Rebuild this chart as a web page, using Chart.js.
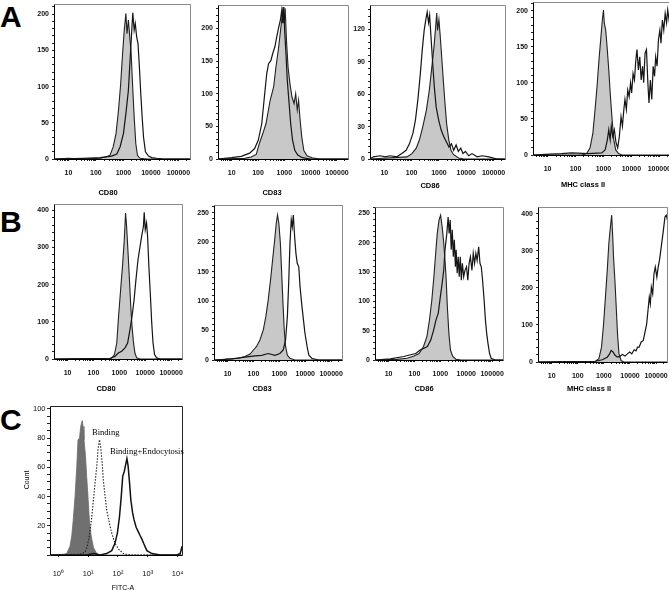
<!DOCTYPE html>
<html>
<head>
<meta charset="utf-8">
<script src="https://cdn.jsdelivr.net/npm/chart.js@4.4.1/dist/chart.umd.min.js"></script>
<style>
html, body { margin:0; padding:0; background:#ffffff; }
body { width:669px; height:591px; overflow:hidden; position:relative; }
canvas { position:absolute; }
.panel-letter { position:absolute; left:0; font-family:"Liberation Sans", Arial, sans-serif; font-weight:bold; font-size:30px; line-height:30px; color:#000; }
</style>
</head>
<body>
<div class="panel-letter" style="top:2px">A</div>
<div class="panel-letter" style="top:207px">B</div>
<div class="panel-letter" style="top:405px">C</div>
<script>
// ---------------- Tick labels ----------------
const FACS_X_TICKS = [10, 100, 1000, 10000, 100000];
const FACS_X_LABELS = ['10', '100', '1000', '10000', '100000'];
const C_X_TICKS = [1, 10, 100, 1000, 10000];
const C_X_LABELS = ['10\u2070', '10\u00B9', '10\u00B2', '10\u00B3', '10\u2074'];
const A1_Y_TICKS = [0, 50, 100, 150, 200];
const A2_Y_TICKS = [0, 50, 100, 150, 200];
const A3_Y_TICKS = [0, 30, 60, 90, 120];
const A4_Y_TICKS = [0, 50, 100, 150, 200];
const B1_Y_TICKS = [0, 100, 200, 300, 400];
const B2_Y_TICKS = [0, 50, 100, 150, 200, 250];
const B3_Y_TICKS = [0, 50, 100, 150, 200, 250];
const B4_Y_TICKS = [0, 100, 200, 300, 400];
const C_Y_TICKS = [20, 40, 60, 80, 100];

// ---------------- Histogram data (log10 fluorescence, count) ----------------
// Row A
const A1_FILLED_LOG   = [0.48, 1.0, 1.5, 2.15, 2.39, 2.51, 2.63, 2.73, 2.82, 2.90, 2.97, 3.03, 3.09, 3.13, 3.18, 3.23, 3.28, 3.33, 3.39, 3.45, 3.51, 3.60, 3.85, 5.42];
const A1_FILLED_COUNT = [0, 1, 0, 1, 3, 5, 17, 35, 67, 104, 146, 178, 201, 173, 192, 169, 146, 104, 58, 21, 5, 1, 0, 0];
const A1_OPEN_LOG     = [0.48, 1.54, 2.15, 2.57, 2.76, 2.88, 3.00, 3.09, 3.18, 3.24, 3.29, 3.34, 3.39, 3.43, 3.48, 3.53, 3.58, 3.63, 3.68, 3.73, 3.80, 3.91, 4.03, 4.21, 4.45, 5.42];
const A1_OPEN_COUNT   = [0, 1, 2, 4, 7, 17, 35, 63, 95, 136, 169, 202, 178, 187, 169, 159, 127, 90, 58, 30, 10, 4, 2, 1, 0, 0];

const A2_FILLED_LOG   = [0.48, 1.49, 1.74, 1.93, 2.05, 2.18, 2.30, 2.46, 2.59, 2.68, 2.77, 2.84, 2.90, 2.95, 2.99, 3.03, 3.08, 3.14, 3.21, 3.29, 3.37, 3.43, 3.49, 3.54, 3.60, 3.66, 3.74, 3.86, 4.05, 4.36, 5.42];
const A2_FILLED_COUNT = [0, 1, 3, 7, 24, 39, 54, 90, 110, 141, 167, 192, 213, 233, 208, 231, 182, 141, 116, 95, 85, 100, 75, 90, 59, 34, 13, 5, 2, 0, 0];
const A2_OPEN_LOG     = [0.48, 0.99, 1.36, 1.68, 1.87, 2.01, 2.14, 2.24, 2.33, 2.40, 2.49, 2.56, 2.64, 2.71, 2.79, 2.85, 2.90, 2.94, 2.98, 3.01, 3.06, 3.11, 3.18, 3.24, 3.31, 3.40, 3.51, 3.68, 3.99, 5.42];
const A2_OPEN_COUNT   = [0, 2, 4, 9, 16, 29, 54, 95, 131, 146, 151, 162, 172, 187, 203, 213, 228, 208, 233, 197, 162, 121, 85, 54, 29, 13, 6, 2, 0, 0];

const A3_FILLED_LOG   = [0.48, 1.83, 2.01, 2.17, 2.29, 2.41, 2.54, 2.65, 2.74, 2.82, 2.88, 2.92, 2.95, 3.00, 3.05, 3.10, 3.16, 3.22, 3.28, 3.36, 3.44, 3.54, 3.72, 3.91, 5.42];
const A3_FILLED_COUNT = [0, 2, 5, 10, 18, 30, 45, 64, 85, 104, 122, 135, 119, 129, 113, 95, 73, 52, 33, 18, 8, 4, 1, 0, 0];
const A3_OPEN_LOG     = [0.48, 0.60, 0.85, 1.03, 1.21, 1.46, 1.64, 1.80, 1.92, 2.05, 2.14, 2.23, 2.32, 2.39, 2.46, 2.52, 2.57, 2.62, 2.66, 2.71, 2.77, 2.83, 2.90, 2.99, 3.08, 3.17, 3.27, 3.37, 3.46, 3.54, 3.63, 3.71, 3.80, 3.88, 3.97, 4.09, 4.21, 4.40, 4.58, 4.83, 5.13, 5.42];
const A3_OPEN_COUNT   = [0, 2, 3, 2, 3, 2, 5, 8, 14, 24, 36, 55, 79, 101, 119, 129, 136, 126, 133, 113, 89, 67, 48, 36, 27, 21, 16, 11, 14, 8, 13, 7, 10, 5, 7, 3, 5, 2, 3, 2, 0, 0];

const A4_FILLED_LOG   = [0.48, 2.22, 2.40, 2.52, 2.62, 2.70, 2.77, 2.84, 2.91, 2.96, 3.00, 3.03, 3.08, 3.13, 3.19, 3.25, 3.31, 3.37, 3.44, 3.54, 3.66, 5.42];
const A4_FILLED_COUNT = [0, 0, 2, 10, 30, 63, 95, 132, 164, 187, 201, 183, 173, 150, 118, 81, 49, 21, 7, 2, 0, 0];
const A4_OPEN_LOG     = [0.48, 0.91, 1.50, 1.86, 2.46, 2.94, 3.06, 3.14, 3.19, 3.24, 3.28, 3.33, 3.39, 3.45, 3.51, 3.57, 3.63, 3.68, 3.73, 3.77, 3.82, 3.87, 3.92, 3.97, 4.01, 4.06, 4.11, 4.16, 4.20, 4.25, 4.30, 4.35, 4.40, 4.44, 4.49, 4.54, 4.59, 4.63, 4.68, 4.73, 4.78, 4.83, 4.87, 4.92, 4.97, 5.02, 5.06, 5.11, 5.16, 5.21, 5.26, 5.30, 5.35, 5.40];
const A4_OPEN_COUNT   = [0, 1, 2, 3, 2, 3, 7, 21, 35, 21, 40, 26, 35, 17, 10, 26, 53, 40, 63, 77, 63, 90, 81, 100, 86, 113, 104, 132, 146, 118, 136, 104, 123, 100, 141, 146, 100, 72, 104, 77, 123, 109, 136, 123, 160, 173, 155, 187, 173, 196, 183, 201, 187, 206];

// Row B
const B1_FILLED_LOG   = [0.48, 2.70, 2.81, 2.90, 2.97, 3.05, 3.13, 3.19, 3.24, 3.28, 3.33, 3.39, 3.44, 3.49, 3.54, 3.60, 3.67, 3.80, 5.42];
const B1_FILLED_COUNT = [0, 2, 12, 43, 115, 187, 258, 321, 393, 357, 294, 213, 142, 88, 48, 16, 3, 0, 0];
const B1_OPEN_LOG     = [0.48, 2.64, 2.83, 2.96, 3.09, 3.22, 3.32, 3.41, 3.49, 3.57, 3.64, 3.72, 3.80, 3.86, 3.93, 3.96, 4.00, 4.05, 4.09, 4.14, 4.20, 4.25, 4.30, 4.36, 4.44, 4.57, 5.42];
const B1_OPEN_COUNT   = [0, 2, 7, 16, 21, 30, 43, 79, 115, 160, 213, 267, 303, 330, 357, 395, 348, 366, 330, 249, 169, 97, 43, 12, 3, 0, 0];

const B2_FILLED_LOG   = [0.48, 0.90, 1.42, 1.67, 1.87, 2.00, 2.12, 2.25, 2.38, 2.48, 2.57, 2.66, 2.74, 2.82, 2.88, 2.93, 2.98, 3.04, 3.09, 3.14, 3.19, 3.24, 3.31, 3.41, 3.60, 5.42];
const B2_FILLED_COUNT = [0, 1, 3, 6, 10, 17, 23, 34, 51, 74, 102, 136, 170, 204, 232, 246, 232, 198, 147, 96, 51, 23, 8, 3, 0, 0];
const B2_OPEN_LOG     = [0.48, 1.16, 1.67, 2.06, 2.32, 2.57, 2.83, 3.02, 3.15, 3.24, 3.31, 3.36, 3.41, 3.46, 3.50, 3.54, 3.59, 3.64, 3.69, 3.75, 3.80, 3.86, 3.93, 3.99, 4.07, 4.14, 4.25, 4.51, 5.42];
const B2_OPEN_COUNT   = [0, 2, 5, 7, 8, 11, 8, 11, 17, 34, 74, 130, 198, 238, 226, 246, 209, 181, 164, 158, 124, 96, 68, 45, 23, 8, 3, 0, 0];

const B3_FILLED_LOG   = [0.48, 1.33, 1.72, 1.98, 2.18, 2.35, 2.48, 2.58, 2.67, 2.75, 2.82, 2.88, 2.95, 3.01, 3.07, 3.12, 3.17, 3.22, 3.27, 3.33, 3.39, 3.48, 3.61, 3.81, 5.42];
const B3_FILLED_COUNT = [0, 1, 3, 7, 11, 23, 40, 68, 102, 142, 182, 216, 239, 247, 227, 205, 176, 142, 91, 45, 17, 6, 1, 0, 0];
const B3_OPEN_LOG     = [0.48, 1.07, 1.59, 1.85, 2.05, 2.22, 2.37, 2.50, 2.63, 2.74, 2.83, 2.92, 3.00, 3.07, 3.13, 3.18, 3.25, 3.30, 3.34, 3.38, 3.42, 3.46, 3.50, 3.54, 3.58, 3.61, 3.65, 3.69, 3.73, 3.77, 3.81, 3.85, 3.90, 3.95, 4.01, 4.06, 4.11, 4.16, 4.22, 4.27, 4.32, 4.37, 4.42, 4.48, 4.53, 4.58, 4.63, 4.69, 4.74, 4.79, 4.84, 4.90, 4.96, 5.12, 5.42];
const B3_OPEN_COUNT   = [0, 2, 6, 9, 11, 17, 20, 23, 34, 51, 68, 80, 108, 131, 153, 188, 216, 244, 216, 239, 188, 222, 176, 205, 159, 188, 148, 176, 142, 176, 136, 165, 142, 153, 159, 136, 165, 176, 153, 182, 165, 182, 170, 193, 165, 159, 136, 102, 68, 45, 28, 11, 3, 0, 0];

const B4_FILLED_LOG   = [0.48, 2.68, 2.81, 2.91, 2.99, 3.06, 3.13, 3.19, 3.25, 3.30, 3.34, 3.37, 3.43, 3.48, 3.53, 3.58, 3.66, 3.77, 5.42];
const B4_FILLED_COUNT = [0, 2, 9, 40, 103, 175, 247, 319, 364, 396, 337, 283, 211, 139, 67, 22, 4, 0, 0];
const B4_OPEN_LOG     = [0.48, 2.68, 2.94, 3.13, 3.22, 3.28, 3.35, 3.43, 3.52, 3.61, 3.71, 3.81, 3.90, 3.99, 4.07, 4.16, 4.23, 4.29, 4.35, 4.43, 4.51, 4.59, 4.64, 4.69, 4.74, 4.78, 4.82, 4.87, 4.92, 4.97, 5.03, 5.08, 5.13, 5.18, 5.23, 5.28, 5.34, 5.39, 5.44];
const B4_OPEN_COUNT   = [0, 2, 6, 13, 22, 31, 27, 18, 13, 15, 20, 16, 22, 27, 22, 33, 30, 40, 40, 54, 58, 85, 103, 139, 175, 157, 202, 184, 238, 256, 229, 256, 274, 301, 328, 355, 391, 396, 382];

// Row C (FITC-A)
const C_CONTROL_LOG   = [-0.28, 0.17, 0.28, 0.39, 0.45, 0.50, 0.56, 0.62, 0.66, 0.71, 0.75, 0.80, 0.83, 0.86, 0.91, 0.95, 1.00, 1.04, 1.10, 1.18, 1.29, 1.40, 4.15];
const C_CONTROL_COUNT = [0, 0.5, 1, 6, 13, 24, 40, 61, 79, 80, 88, 92, 88, 79, 68, 54, 38, 24, 13, 5, 1, 0, 0];
const C_BINDING_LOG   = [-0.28, 0.28, 0.73, 0.90, 0.97, 1.04, 1.11, 1.18, 1.23, 1.29, 1.33, 1.38, 1.42, 1.47, 1.51, 1.57, 1.62, 1.71, 1.79, 1.90, 2.02, 2.18, 2.41, 4.15];
const C_BINDING_COUNT = [0, 0, 0.5, 2, 6, 13, 24, 38, 49, 61, 72, 79, 74, 63, 51, 40, 31, 22, 15, 8, 4, 1, 0, 0];
const C_ENDO_LOG      = [-0.28, 0.95, 1.18, 1.40, 1.62, 1.79, 1.90, 1.98, 2.05, 2.11, 2.16, 2.21, 2.25, 2.30, 2.34, 2.39, 2.43, 2.49, 2.54, 2.61, 2.68, 2.75, 2.80, 2.86, 2.97, 3.14, 3.42, 3.98, 4.09, 4.15];
const C_ENDO_COUNT    = [0, 0, 1, 0, 1, 3, 8, 15, 26, 40, 54, 57, 61, 66, 61, 49, 38, 29, 24, 19, 16, 13, 11, 8, 3, 1, 0, 0, 1, 6];

// ---------------- Rendering ----------------
const FONT = '"Liberation Sans", Arial, sans-serif';
const SERIF = '"Liberation Serif", "Times New Roman", serif';

function toPoints(logs, counts) {
  return logs.map((l, i) => ({ x: Math.pow(10, l), y: counts[i] }));
}

const framePlugin = {
  id: 'frame',
  afterDatasetsDraw(chart, args, o) {
    const { ctx, chartArea: a } = chart;
    ctx.save();
    ctx.lineWidth = 1;
    ctx.strokeStyle = o.boxColor;
    ctx.beginPath();
    ctx.moveTo(a.left + 0.5, a.top + 0.5);
    ctx.lineTo(a.right + 0.5, a.top + 0.5);
    ctx.lineTo(a.right + 0.5, a.bottom + 0.5);
    ctx.stroke();
    ctx.strokeStyle = o.axisColor;
    ctx.beginPath();
    ctx.moveTo(a.left + 0.5, a.top + 0.5);
    ctx.lineTo(a.left + 0.5, a.bottom + 0.5);
    ctx.lineTo(a.right + 0.5, a.bottom + 0.5);
    ctx.stroke();
    ctx.restore();
  }
};

const textPlugin = {
  id: 'texts',
  afterDraw(chart, args, o) {
    const ctx = chart.ctx;
    for (const t of (o.items || [])) {
      ctx.save();
      ctx.font = t.font;
      ctx.fillStyle = t.color || '#000';
      ctx.textAlign = t.align || 'center';
      ctx.textBaseline = 'middle';
      ctx.translate(t.x, t.y);
      if (t.rotate) ctx.rotate(t.rotate);
      ctx.fillText(t.text, 0, 0);
      ctx.restore();
    }
  }
};

function facsMinorTicks(min, max, majors) {
  const out = [];
  for (let e = 0; e <= 6; e++) {
    for (let k = 2; k <= 9; k++) {
      const v = k * Math.pow(10, e);
      if (v > min && v < max && !majors.includes(v)) out.push(v);
    }
  }
  return out;
}

function makeChart(p) {
  const m = p.margins;
  const [x0, y0, x1, y1] = p.box;
  const cl = x0 - m.l, ct = y0 - m.t;
  const w = (x1 - x0) + m.l + m.r, h = (y1 - y0) + m.t + m.b;
  const cv = document.createElement('canvas');
  cv.width = w; cv.height = h;
  cv.style.left = cl + 'px'; cv.style.top = ct + 'px';
  cv.style.width = w + 'px'; cv.style.height = h + 'px';
  document.body.appendChild(cv);

  const xLabelMap = new Map(p.xTicks.map((v, i) => [v, p.xLabels[i]]));
  const xTickList = p.xTicks.concat(p.xMinor).sort((a, b) => a - b);
  const ySet = new Set(p.yTicks);
  const yTickList = [];
  for (let v = 0; v <= p.yMax; v += p.yMinor) yTickList.push(v);

  const items = p.texts.map(t => Object.assign({}, t, { x: t.x - cl, y: t.y - ct }));

  new Chart(cv, {
    type: 'line',
    data: { datasets: p.datasets },
    options: {
      responsive: false,
      animation: false,
      devicePixelRatio: 1,
      events: [],
      layout: { padding: { left: 0, top: m.t, right: m.r, bottom: 0 } },
      elements: { point: { radius: 0 }, line: { tension: 0 } },
      plugins: {
        legend: { display: false },
        tooltip: { enabled: false },
        frame: { boxColor: p.boxColor, axisColor: '#000' },
        texts: { items }
      },
      scales: {
        x: {
          type: 'logarithmic', min: p.xMin, max: p.xMax,
          border: { display: false },
          grid: { display: true, drawOnChartArea: false, drawTicks: true, tickLength: p.xTickLen, color: '#222', lineWidth: 1 },
          ticks: {
            autoSkip: false, maxRotation: 0, minRotation: 0, padding: p.xPad, color: '#111',
            font: { family: FONT, size: p.tickSize, weight: p.tickWeight },
            callback: v => (xLabelMap.has(v) ? xLabelMap.get(v) : '')
          },
          afterBuildTicks: s => { s.ticks = xTickList.map(v => ({ value: v })); },
          afterFit: s => { s.height = m.b; s.paddingLeft = 0; s.paddingRight = 0; }
        },
        y: {
          type: 'linear', min: 0, max: p.yMax,
          border: { display: false },
          grid: { display: true, drawOnChartArea: false, drawTicks: true, tickLength: p.yTickLen, color: '#222', lineWidth: 1 },
          ticks: {
            autoSkip: false, padding: p.yPad, color: '#111',
            font: { family: FONT, size: p.tickSize, weight: p.tickWeight },
            callback: v => (ySet.has(v) ? String(v) : '')
          },
          afterBuildTicks: s => { s.ticks = yTickList.map(v => ({ value: v })); },
          afterFit: s => { s.width = m.l; s.paddingTop = 0; s.paddingBottom = 0; }
        }
      }
    },
    plugins: [framePlugin, textPlugin]
  });
}

const FACS_MIN = 3, FACS_MAX = 262144;
const FACS_MINOR = facsMinorTicks(FACS_MIN, FACS_MAX, FACS_X_TICKS);

function facsPanel(box, yMax, yTicks, yMinor, title, tx, ty, open, filled) {
  return {
    box, yMax, yTicks, yMinor,
    margins: { l: 34, t: 3, r: 4, b: 45 },
    xMin: FACS_MIN, xMax: FACS_MAX,
    xTicks: FACS_X_TICKS, xLabels: FACS_X_LABELS, xMinor: FACS_MINOR,
    xTickLen: 2, yTickLen: 2, xPad: 8, yPad: 3, tickSize: 7, tickWeight: 'bold',
    boxColor: '#8a8a8a',
    texts: [{ text: title, x: tx, y: ty, font: 'bold 7.5px ' + FONT }],
    datasets: [
      { data: toPoints(open[0], open[1]), borderColor: '#151515', borderWidth: 1.2, pointRadius: 0, fill: false },
      { data: toPoints(filled[0], filled[1]), borderColor: '#222222', borderWidth: 1.1, backgroundColor: '#c8c8c8', pointRadius: 0, fill: 'origin' }
    ]
  };
}

const panels = [
  facsPanel([54, 4, 190, 159], 214, A1_Y_TICKS, 10, 'CD80', 108, 193, [A1_OPEN_LOG, A1_OPEN_COUNT], [A1_FILLED_LOG, A1_FILLED_COUNT]),
  facsPanel([218, 5, 348, 159], 236, A2_Y_TICKS, 10, 'CD83', 272, 193, [A2_OPEN_LOG, A2_OPEN_COUNT], [A2_FILLED_LOG, A2_FILLED_COUNT]),
  facsPanel([370, 5, 505, 159], 142.5, A3_Y_TICKS, 6, 'CD86', 430, 186, [A3_OPEN_LOG, A3_OPEN_COUNT], [A3_FILLED_LOG, A3_FILLED_COUNT]),
  facsPanel([533, 2, 671, 155], 212, A4_Y_TICKS, 10, 'MHC class II', 583, 185, [A4_OPEN_LOG, A4_OPEN_COUNT], [A4_FILLED_LOG, A4_FILLED_COUNT]),
  facsPanel([54, 204, 182, 359], 417, B1_Y_TICKS, 20, 'CD80', 106, 389, [B1_OPEN_LOG, B1_OPEN_COUNT], [B1_FILLED_LOG, B1_FILLED_COUNT]),
  facsPanel([214, 205, 342, 360], 263, B2_Y_TICKS, 10, 'CD83', 262, 389, [B2_OPEN_LOG, B2_OPEN_COUNT], [B2_FILLED_LOG, B2_FILLED_COUNT]),
  facsPanel([375, 207, 503, 360], 261, B3_Y_TICKS, 10, 'CD86', 424, 389, [B3_OPEN_LOG, B3_OPEN_COUNT], [B3_FILLED_LOG, B3_FILLED_COUNT]),
  facsPanel([538, 207, 667, 362], 418, B4_Y_TICKS, 20, 'MHC class II', 589, 389, [B4_OPEN_LOG, B4_OPEN_COUNT], [B4_FILLED_LOG, B4_FILLED_COUNT])
];

panels.push({
  box: [50, 406, 182, 555], yMax: 102, yTicks: C_Y_TICKS, yMinor: 5,
  margins: { l: 50, t: 3, r: 8, b: 36 },
  xMin: 0.525, xMax: 14060,
  xTicks: C_X_TICKS, xLabels: C_X_LABELS, xMinor: [],
  xTickLen: 2, yTickLen: 3, xPad: 12, yPad: 1.5, tickSize: 7.5, tickWeight: 'normal',
  boxColor: '#222',
  texts: [
    { text: 'Count', x: 27, y: 480, font: '7px ' + FONT, rotate: -Math.PI / 2 },
    { text: 'FITC-A', x: 123, y: 588, font: '7px ' + FONT },
    { text: 'Binding', x: 92, y: 433, font: '8.5px ' + SERIF, align: 'left' },
    { text: 'Binding+Endocytosis', x: 110, y: 452, font: '8.5px ' + SERIF, align: 'left' }
  ],
  datasets: [
    { data: toPoints(C_ENDO_LOG, C_ENDO_COUNT), borderColor: '#111', borderWidth: 1.5, pointRadius: 0, fill: false },
    { data: toPoints(C_BINDING_LOG, C_BINDING_COUNT), borderColor: '#222', borderWidth: 1.1, borderDash: [1.5, 1.5], pointRadius: 0, fill: false },
    { data: toPoints(C_CONTROL_LOG, C_CONTROL_COUNT), borderColor: '#6a6a6a', borderWidth: 0.8, backgroundColor: '#707070', pointRadius: 0, fill: 'origin' }
  ]
});

panels.forEach(makeChart);
</script>
</body>
</html>
